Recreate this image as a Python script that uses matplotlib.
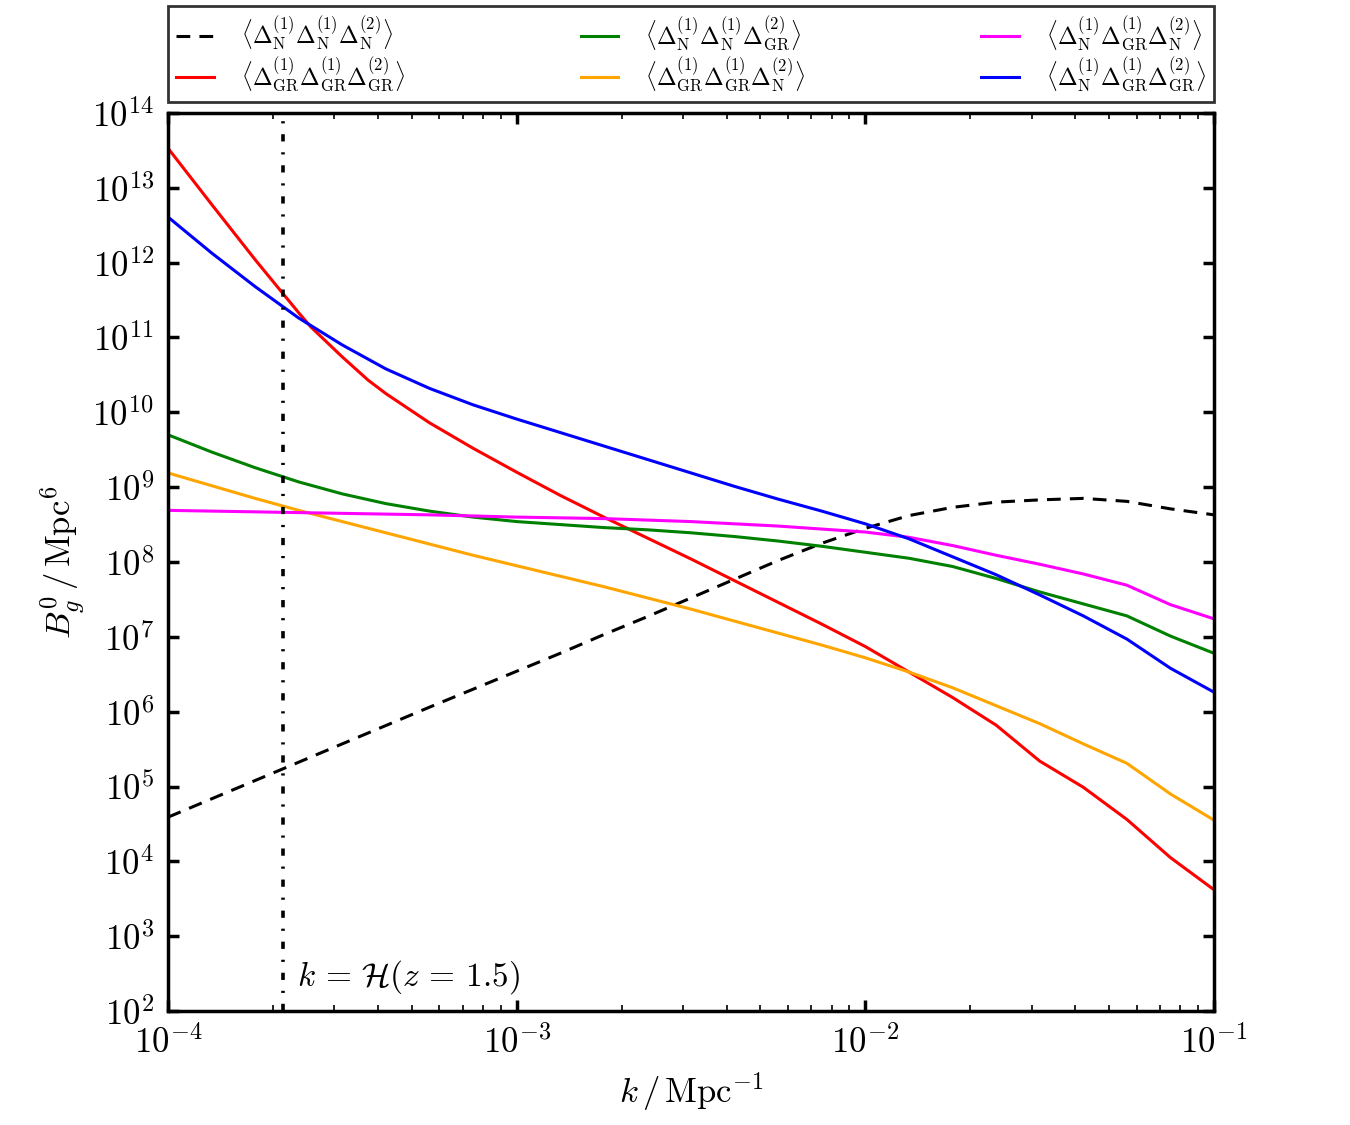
import numpy as np
import matplotlib
matplotlib.use("Agg")
import matplotlib.pyplot as plt
from matplotlib.ticker import FuncFormatter, NullLocator

plt.rcParams["mathtext.fontset"] = "cm"
plt.rcParams["font.family"] = "serif"
plt.rcParams["font.serif"] = ["DejaVu Serif"]

# log10(k / Mpc^-1) sample points
logk = np.array([-4.0, -3.875, -3.75, -3.625, -3.5, -3.375, -3.25, -3.125, -3.0,
                 -2.875, -2.75, -2.625, -2.5, -2.375, -2.25, -2.125, -2.0,
                 -1.875, -1.75, -1.625, -1.5, -1.375, -1.25, -1.125, -1.0])

# log10(B_g^0 / Mpc^6)
NNN = [4.59, 4.835, 5.08, 5.325, 5.57, 5.815, 6.06, 6.30, 6.54, 6.78, 7.03, 7.27, 7.52,
       7.77, 8.02, 8.25, 8.45, 8.62, 8.73, 8.80, 8.83, 8.85, 8.81, 8.71, 8.63]
NNG = [9.70, 9.47, 9.26, 9.07, 8.91, 8.78, 8.68, 8.60, 8.54, 8.50, 8.46, 8.43, 8.39,
       8.34, 8.28, 8.21, 8.13, 8.05, 7.94, 7.78, 7.60, 7.44, 7.28, 7.01, 6.78]
GGN = [9.19, 9.02, 8.85, 8.69, 8.54, 8.39, 8.24, 8.09, 7.95, 7.81, 7.67, 7.52, 7.37,
       7.21, 7.05, 6.89, 6.72, 6.53, 6.32, 6.08, 5.84, 5.57, 5.31, 4.90, 4.55]
NGN = [8.69, 8.68, 8.67, 8.66, 8.65, 8.64, 8.63, 8.615, 8.60, 8.59, 8.58, 8.56, 8.54,
       8.51, 8.48, 8.44, 8.40, 8.33, 8.22, 8.09, 7.97, 7.84, 7.69, 7.43, 7.24]
NGG = [12.61, 12.13, 11.68, 11.26, 10.90, 10.58, 10.32, 10.10, 9.91, 9.73, 9.55, 9.37,
       9.19, 9.01, 8.84, 8.68, 8.51, 8.31, 8.07, 7.83, 7.56, 7.28, 6.97, 6.58, 6.26]

# the GR-GR-GR curve bends sharply near k ~ 3e-4, so it has a few extra readings
logk_GGG = np.array([-4.0, -3.875, -3.75, -3.625, -3.59, -3.5, -3.426, -3.375, -3.25,
                     -3.125, -3.0, -2.875, -2.75, -2.625, -2.5, -2.375, -2.25, -2.125,
                     -2.0, -1.875, -1.75, -1.625, -1.5, -1.375, -1.25, -1.125, -1.0])
GGG = [13.53, 12.78, 12.04, 11.33, 11.14, 10.74, 10.43, 10.25, 9.86, 9.52, 9.20, 8.89,
       8.60, 8.32, 8.04, 7.75, 7.46, 7.17, 6.87, 6.53, 6.19, 5.82, 5.34, 4.99, 4.56,
       4.05, 3.62]

k_H = 2.14e-4  # k = H(z=1.5)

labels = [
    r"$\langle\Delta_{\rm N}^{(1)}\Delta_{\rm N}^{(1)}\Delta_{\rm N}^{(2)}\rangle$",
    r"$\langle\Delta_{\rm GR}^{(1)}\Delta_{\rm GR}^{(1)}\Delta_{\rm GR}^{(2)}\rangle$",
    r"$\langle\Delta_{\rm N}^{(1)}\Delta_{\rm N}^{(1)}\Delta_{\rm GR}^{(2)}\rangle$",
    r"$\langle\Delta_{\rm GR}^{(1)}\Delta_{\rm GR}^{(1)}\Delta_{\rm N}^{(2)}\rangle$",
    r"$\langle\Delta_{\rm N}^{(1)}\Delta_{\rm GR}^{(1)}\Delta_{\rm N}^{(2)}\rangle$",
    r"$\langle\Delta_{\rm N}^{(1)}\Delta_{\rm GR}^{(1)}\Delta_{\rm GR}^{(2)}\rangle$",
]

k = 10.0 ** logk

fig = plt.figure(figsize=(13.5, 11.25), dpi=100)
ax = fig.add_axes([0.1244, 0.1013, 0.7749, 0.7983])

lw = 2.2
ax.plot(k, 10.0 ** np.array(NNN), color="k", lw=lw, dashes=(4.5, 3), label=labels[0])
ax.plot(10.0 ** logk_GGG, 10.0 ** np.array(GGG), color="r", lw=lw, label=labels[1])
ax.plot(k, 10.0 ** np.array(NNG), color="g", lw=lw, label=labels[2])
ax.plot(k, 10.0 ** np.array(GGN), color="orange", lw=lw, label=labels[3])
ax.plot(k, 10.0 ** np.array(NGN), color="magenta", lw=lw, label=labels[4])
ax.plot(k, 10.0 ** np.array(NGG), color="b", lw=lw, label=labels[5])

ax.axvline(k_H, color="k", lw=2.6, dashes=(2.0, 3.0, 0.6, 3.0))
ax.text(2.35e-4, 2.2e2, r"$k\,=\,\mathcal{H}(z\,=\,1.5)$", fontsize=24)

ax.set_xscale("log")
ax.set_yscale("log")
ax.set_xlim(1e-4, 1e-1)
ax.set_ylim(1e2, 1e14)
ax.set_yticks(10.0 ** np.arange(2, 15))
ax.yaxis.set_minor_locator(NullLocator())
decade = FuncFormatter(lambda v, pos: r"$10^{%d}$" % int(round(np.log10(v))))
ax.xaxis.set_major_formatter(decade)
ax.yaxis.set_major_formatter(decade)

ax.tick_params(which="both", direction="in", top=True, right=True, labelsize=25, pad=10)
ax.tick_params(which="major", length=8, width=2.5)
ax.tick_params(which="minor", length=4, width=1.2)
for s in ax.spines.values():
    s.set_linewidth(2.5)

ax.set_xlabel(r"$k\,/\,{\rm Mpc}^{-1}$", fontsize=25, labelpad=8)
ax.set_ylabel(r"$B_g^0\,/\,{\rm Mpc}^6$", fontsize=25)

leg = ax.legend(bbox_to_anchor=(0.0, 1.0118, 1.0, 0.1), loc="lower left", mode="expand",
                ncol=3, fontsize=17, fancybox=False, borderaxespad=0.0,
                handlelength=1.6, handletextpad=1.15, labelspacing=0.12, borderpad=0.35)
leg.get_frame().set_edgecolor("k")
leg.get_frame().set_linewidth(2.0)

plt.savefig("out.png", dpi=100)
